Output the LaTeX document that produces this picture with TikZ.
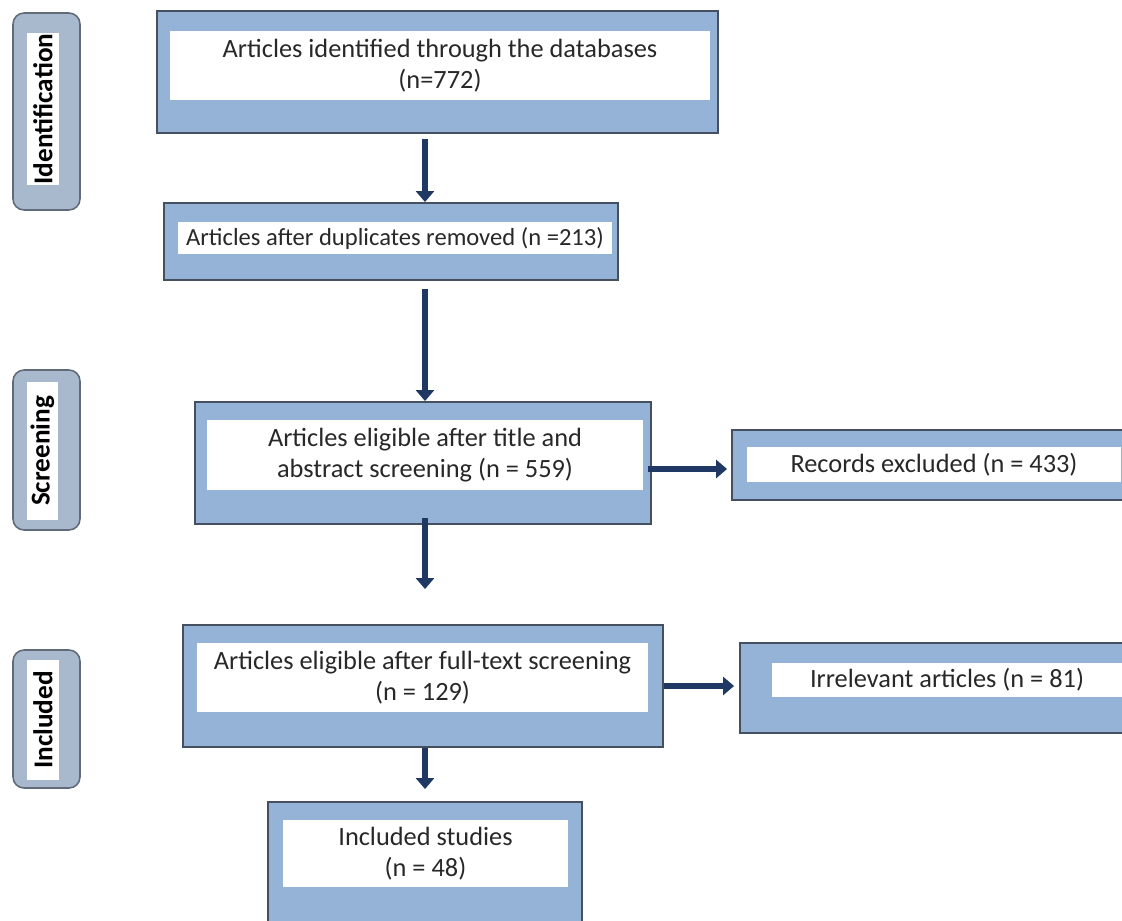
\documentclass[tikz,border=0pt]{standalone}
\usepackage{fontspec}
\setmainfont{Carlito}
\usetikzlibrary{arrows.meta}

\definecolor{boxblue}{RGB}{149,179,215}
\definecolor{boxline}{RGB}{68,80,96}
\definecolor{tagfill}{RGB}{168,185,206}
\definecolor{arrowblue}{RGB}{31,56,100}
\definecolor{txtgray}{RGB}{40,40,40}

\begin{document}
\begin{tikzpicture}[x=0.02cm,y=-0.02cm,
    boxout/.style={draw=boxline,line width=1.1pt,fill=boxblue,inner sep=0pt},
    boxin/.style={fill=white,inner sep=0pt,align=center,text=txtgray,font=\fontsize{15}{18}\selectfont},
    tagout/.style={draw=boxline!85,line width=0.9pt,fill=tagfill,rounded corners=0.22cm,inner sep=0pt},
    tagin/.style={fill=white,rotate=90,inner sep=0pt,text=black,font=\fontsize{15.5}{19}\selectfont\bfseries},
    flow/.style={draw=arrowblue,line width=0.13cm,-{Triangle[width=0.36cm,length=0.22cm]}}]
    \clip (0,0) rectangle (1122,920);

    % phase tags
    \node[tagout,minimum width=1.34cm,minimum height=3.94cm] (tag1) at (46.5,111.5) {};
    \node[tagin,minimum width=3.04cm,minimum height=0.64cm] (tag1t) at (43,109) {Identification};
    \node[tagout,minimum width=1.34cm,minimum height=3.2cm] (tag2) at (46.5,450) {};
    \node[tagin,minimum width=2.76cm,minimum height=0.62cm] (tag2t) at (42.5,451) {Screening};
    \node[tagout,minimum width=1.34cm,minimum height=2.76cm] (tag3) at (46.5,719) {};
    \node[tagin,minimum width=2.4cm,minimum height=0.64cm] (tag3t) at (43,720) {Included};

    % boxes
    \node[boxout,minimum width=11.22cm,minimum height=2.44cm] (b1) at (437.5,72) {};
    \node[boxin,minimum width=10.8cm,minimum height=1.38cm] (b1t) at (440,65.5)
        {Articles identified through the databases\\(n=772)};
    \node[boxout,minimum width=9.08cm,minimum height=1.54cm] (b2) at (391,241.5) {};
    \node[boxin,minimum width=8.68cm,minimum height=0.64cm,font=\fontsize{14}{17}\selectfont] (b2t) at (395,238)
        {Articles after duplicates removed (n =213)};
    \node[boxout,minimum width=9.12cm,minimum height=2.44cm] (b3) at (423,463) {};
    \node[boxin,minimum width=8.72cm,minimum height=1.4cm] (b3t) at (425,455)
        {Articles eligible after title and\\abstract screening (n = 559)};
    \node[boxout,minimum width=8.06cm,minimum height=1.4cm] (b4) at (933.5,465) {};
    \node[boxin,minimum width=7.48cm,minimum height=0.7cm] (b4t) at (934,464.5)
        {Records excluded (n = 433)};
    \node[boxout,minimum width=9.6cm,minimum height=2.44cm] (b5) at (423,686) {};
    \node[boxin,minimum width=9.02cm,minimum height=1.38cm] (b5t) at (422.5,677.5)
        {Articles eligible after full-text screening\\(n = 129)};
    \node[boxout,minimum width=7.9cm,minimum height=1.8cm] (b6) at (937.5,688) {};
    \node[boxin,minimum width=7.0cm,minimum height=0.68cm] (b6t) at (947,680)
        {Irrelevant articles (n = 81)};
    \node[boxout,minimum width=6.28cm,minimum height=2.66cm] (b7) at (425,868.5) {};
    \node[boxin,minimum width=5.7cm,minimum height=1.34cm] (b7t) at (425.5,853.5)
        {Included studies\\(n = 48)};

    % arrows
    \coordinate (ax) at (425,0);
    \draw[flow,shorten <=0.1cm] (b1.south -| ax) -- (b2.north -| ax);
    \draw[flow,shorten <=0.16cm] (b2.south -| ax) -- (b3.north -| ax);
    \draw[flow,shorten <=-0.14cm,shorten >=0.7cm] (b3.south -| ax) -- (b5.north -| ax);
    \draw[flow,shorten >=0.24cm] (b5.south -| ax) -- (b7.north -| ax);
    \draw[flow,shorten <=-0.08cm,shorten >=0.08cm] ([yshift=-0.12cm]b3.east) -- ([yshift=-0.12cm]b3.east -| b4.west);
    \draw[flow,shorten >=0.1cm] (b5.east) -- (b5.east -| b6.west);
\end{tikzpicture}
\end{document}
